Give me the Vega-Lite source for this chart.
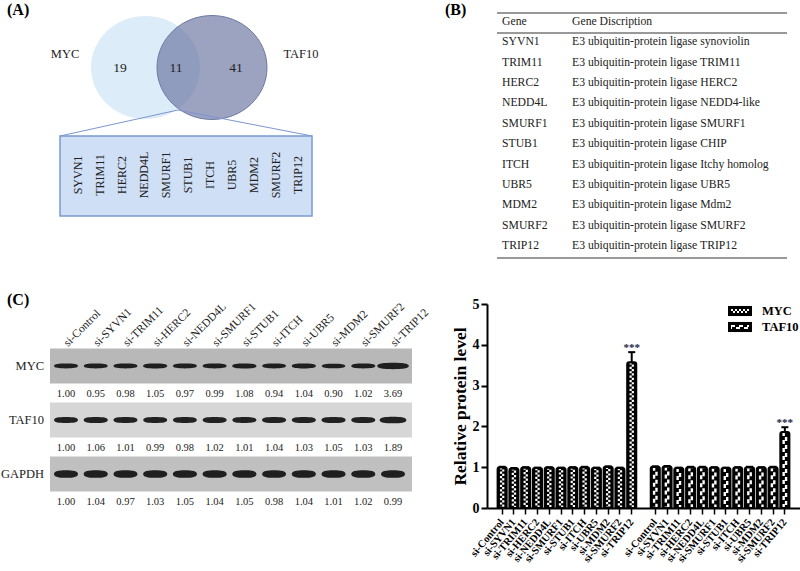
{
"$schema":"https://vega.github.io/schema/vega-lite/v6.json",
"padding":0,"background":"white",
"config":{"view":{"stroke":null},"axis":{"disable":true},"text":{"font":"Liberation Serif","color":"#222222"},"style":{"guide-label":{"font":"Liberation Serif"}}},
"datasets":{
"venn":[{"region":"MYC only","count":19},{"region":"both","count":11},{"region":"TAF10 only","count":41}],
"genes":[{"gene":"Gene","description":"Gene Discription"},{"gene":"SYVN1","description":"E3 ubiquitin-protein ligase synoviolin"},{"gene":"TRIM11","description":"E3 ubiquitin-protein ligase TRIM11"},{"gene":"HERC2","description":"E3 ubiquitin-protein ligase HERC2"},{"gene":"NEDD4L","description":"E3 ubiquitin-protein ligase NEDD4-like"},{"gene":"SMURF1","description":"E3 ubiquitin-protein ligase SMURF1"},{"gene":"STUB1","description":"E3 ubiquitin-protein ligase CHIP"},{"gene":"ITCH","description":"E3 ubiquitin-protein ligase Itchy homolog"},{"gene":"UBR5","description":"E3 ubiquitin-protein ligase UBR5"},{"gene":"MDM2","description":"E3 ubiquitin-protein ligase Mdm2"},{"gene":"SMURF2","description":"E3 ubiquitin-protein ligase SMURF2"},{"gene":"TRIP12","description":"E3 ubiquitin-protein ligase TRIP12"}],
"blot":[
{"protein":"MYC","sample":"si-Control","value":1.00},{"protein":"MYC","sample":"si-SYVN1","value":0.95},{"protein":"MYC","sample":"si-TRIM11","value":0.98},{"protein":"MYC","sample":"si-HERC2","value":1.05},{"protein":"MYC","sample":"si-NEDD4L","value":0.97},{"protein":"MYC","sample":"si-SMURF1","value":0.99},{"protein":"MYC","sample":"si-STUB1","value":1.08},{"protein":"MYC","sample":"si-ITCH","value":0.94},{"protein":"MYC","sample":"si-UBR5","value":1.04},{"protein":"MYC","sample":"si-MDM2","value":0.90},{"protein":"MYC","sample":"si-SMURF2","value":1.02},{"protein":"MYC","sample":"si-TRIP12","value":3.69},
{"protein":"TAF10","sample":"si-Control","value":1.00},{"protein":"TAF10","sample":"si-SYVN1","value":1.06},{"protein":"TAF10","sample":"si-TRIM11","value":1.01},{"protein":"TAF10","sample":"si-HERC2","value":0.99},{"protein":"TAF10","sample":"si-NEDD4L","value":0.98},{"protein":"TAF10","sample":"si-SMURF1","value":1.02},{"protein":"TAF10","sample":"si-STUB1","value":1.01},{"protein":"TAF10","sample":"si-ITCH","value":1.04},{"protein":"TAF10","sample":"si-UBR5","value":1.03},{"protein":"TAF10","sample":"si-MDM2","value":1.05},{"protein":"TAF10","sample":"si-SMURF2","value":1.03},{"protein":"TAF10","sample":"si-TRIP12","value":1.89},
{"protein":"GAPDH","sample":"si-Control","value":1.00},{"protein":"GAPDH","sample":"si-SYVN1","value":1.04},{"protein":"GAPDH","sample":"si-TRIM11","value":0.97},{"protein":"GAPDH","sample":"si-HERC2","value":1.03},{"protein":"GAPDH","sample":"si-NEDD4L","value":1.05},{"protein":"GAPDH","sample":"si-SMURF1","value":1.04},{"protein":"GAPDH","sample":"si-STUB1","value":1.05},{"protein":"GAPDH","sample":"si-ITCH","value":0.98},{"protein":"GAPDH","sample":"si-UBR5","value":1.04},{"protein":"GAPDH","sample":"si-MDM2","value":1.01},{"protein":"GAPDH","sample":"si-SMURF2","value":1.02},{"protein":"GAPDH","sample":"si-TRIP12","value":0.99}],
"bars":[
{"bar":"MYC si-Control","group":"MYC","value":1.0,"upper":1.01},{"bar":"MYC si-SYVN1","group":"MYC","value":0.97,"upper":0.98},{"bar":"MYC si-TRIM11","group":"MYC","value":0.99,"upper":1.0},{"bar":"MYC si-HERC2","group":"MYC","value":0.98,"upper":0.99},{"bar":"MYC si-NEDD4L","group":"MYC","value":0.99,"upper":1.0},{"bar":"MYC si-SMURF1","group":"MYC","value":0.98,"upper":0.99},{"bar":"MYC si-STUB1","group":"MYC","value":0.99,"upper":1.0},{"bar":"MYC si-ITCH","group":"MYC","value":1.0,"upper":1.01},{"bar":"MYC si-UBR5","group":"MYC","value":0.98,"upper":0.99},{"bar":"MYC si-MDM2","group":"MYC","value":1.01,"upper":1.02},{"bar":"MYC si-SMURF2","group":"MYC","value":0.98,"upper":0.99},{"bar":"MYC si-TRIP12","group":"MYC","value":3.57,"upper":3.82,"sig":"***"},
{"bar":"TAF10 si-Control","group":"TAF10","value":1.01,"upper":1.02},{"bar":"TAF10 si-SYVN1","group":"TAF10","value":1.02,"upper":1.03},{"bar":"TAF10 si-TRIM11","group":"TAF10","value":0.98,"upper":0.99},{"bar":"TAF10 si-HERC2","group":"TAF10","value":1.0,"upper":1.01},{"bar":"TAF10 si-NEDD4L","group":"TAF10","value":1.0,"upper":1.01},{"bar":"TAF10 si-SMURF1","group":"TAF10","value":0.99,"upper":1.0},{"bar":"TAF10 si-STUB1","group":"TAF10","value":0.98,"upper":0.99},{"bar":"TAF10 si-ITCH","group":"TAF10","value":0.99,"upper":1.0},{"bar":"TAF10 si-UBR5","group":"TAF10","value":1.0,"upper":1.01},{"bar":"TAF10 si-MDM2","group":"TAF10","value":0.99,"upper":1.0},{"bar":"TAF10 si-SMURF2","group":"TAF10","value":1.0,"upper":1.01},{"bar":"TAF10 si-TRIP12","group":"TAF10","value":1.86,"upper":1.98,"sig":"***"}]
},
"bounds":"flush","spacing":0,"columns":2,
"concat":[
{"width":485,"height":290,
 "layer":[
 {"layer":[
  {"data":{"values":[{"set":"MYC"}]},"mark":{"type":"point","filled":true,"opacity":1,"fill":"#dcecf8","size":11881,"shape":"M-1,0A1,0.945 0 1 1 1,0A1,0.945 0 1 1 -1,0Z"},"encoding":{"x":{"datum":143.5,"scale":{"domain":[0,485],"nice":false,"zero":false}},"y":{"datum":67.5,"scale":{"domain":[290,0],"nice":false,"zero":false}}}},
  {"data":{"values":[{"set":"TAF10"}]},"mark":{"type":"point","filled":true,"opacity":1,"fill":"#5f6b99","fillOpacity":0.62,"stroke":"#6f7aa5","strokeWidth":1,"size":12100,"shape":"M-1,0A1,0.945 0 1 1 1,0A1,0.945 0 1 1 -1,0Z"},"encoding":{"x":{"datum":210},"y":{"datum":67.5}}},
  {"data":{"values":[{"part":"left connector"}]},"mark":{"type":"rule","color":"#7d95d0","strokeWidth":1},"encoding":{"x":{"datum":176},"x2":{"datum":58},"y":{"datum":110},"y2":{"datum":136}}},
  {"data":{"values":[{"part":"right connector"}]},"mark":{"type":"rule","color":"#7d95d0","strokeWidth":1},"encoding":{"x":{"datum":176},"x2":{"datum":310},"y":{"datum":110},"y2":{"datum":136}}},
  {"data":{"values":[{"part":"gene box"}]},"mark":{"type":"rect","fill":"#cfdff5","stroke":"#7a9ad0","strokeWidth":1.5},"encoding":{"x":{"datum":58},"x2":{"datum":310},"y":{"datum":136},"y2":{"datum":216}}},
  {"data":{"name":"venn"},"transform":[{"filter":"datum.region==='MYC only'"}],"mark":{"type":"text","fontSize":13.5},"encoding":{"x":{"datum":118},"y":{"datum":68},"text":{"field":"count"}}},
  {"data":{"name":"venn"},"transform":[{"filter":"datum.region==='both'"}],"mark":{"type":"text","fontSize":13.5},"encoding":{"x":{"datum":174},"y":{"datum":68},"text":{"field":"count"}}},
  {"data":{"name":"venn"},"transform":[{"filter":"datum.region==='TAF10 only'"}],"mark":{"type":"text","fontSize":13.5},"encoding":{"x":{"datum":234},"y":{"datum":68},"text":{"field":"count"}}},
  {"data":{"values":[{"name":"MYC"}]},"mark":{"type":"text","fontSize":12.5},"encoding":{"x":{"datum":63},"y":{"datum":54},"text":{"field":"name"}}},
  {"data":{"values":[{"name":"TAF10"}]},"mark":{"type":"text","fontSize":12.5},"encoding":{"x":{"datum":299},"y":{"datum":54},"text":{"field":"name"}}},
  {"data":{"values":[{"name":"(A)"}]},"mark":{"type":"text","fontSize":16,"fontWeight":"bold","align":"left","color":"black"},"encoding":{"x":{"datum":5},"y":{"datum":10},"text":{"field":"name"}}}
 ]},
 {"data":{"name":"genes"},"transform":[{"filter":"datum.gene!=='Gene'"}],"mark":{"type":"text","angle":270,"fontSize":12,"align":"center","baseline":"middle"},
  "encoding":{"x":{"field":"gene","type":"nominal","sort":null,"scale":{"type":"point","padding":0,"range":[76,296]}},"y":{"datum":175},"text":{"field":"gene"}}}
 ],
 "resolve":{"scale":{"x":"independent"}}
},
{"width":315,"height":290,
 "layer":[
 {"data":{"name":"genes"},"layer":[
  {"mark":{"type":"text","align":"left","fontSize":11.7},"encoding":{"x":{"datum":60,"scale":{"domain":[0,360],"range":[-45,315],"nice":false,"zero":false}},"text":{"field":"gene"}}},
  {"mark":{"type":"text","align":"left","fontSize":11.7},"encoding":{"x":{"datum":130},"text":{"field":"description"}}}
 ],"encoding":{"y":{"field":"gene","type":"nominal","sort":null,"scale":{"type":"point","padding":0,"range":[21,245]}}}},
 {"layer":[
  {"data":{"values":[{"rule":"top"}]},"mark":{"type":"rule","color":"#333333"},"encoding":{"x":{"datum":55},"x2":{"datum":345},"y":{"datum":13,"scale":{"domain":[290,0],"nice":false,"zero":false}}}},
  {"data":{"values":[{"rule":"header"}]},"mark":{"type":"rule","color":"#333333"},"encoding":{"x":{"datum":55},"x2":{"datum":345},"y":{"datum":33}}},
  {"data":{"values":[{"rule":"bottom"}]},"mark":{"type":"rule","color":"#333333"},"encoding":{"x":{"datum":55},"x2":{"datum":345},"y":{"datum":258}}},
  {"data":{"values":[{"name":"(B)"}]},"mark":{"type":"text","fontSize":16,"fontWeight":"bold","align":"left","color":"black"},"encoding":{"x":{"datum":3},"y":{"datum":10},"text":{"field":"name"}}}
 ]}
 ],
 "resolve":{"scale":{"y":"independent"}}
},
{"width":485,"height":281,
 "layer":[
 {"data":{"values":[{"protein":"MYC"},{"protein":"TAF10"},{"protein":"GAPDH"}]},
  "encoding":{"y":{"field":"protein","type":"nominal","sort":null,"scale":{"type":"point","padding":0,"range":[76,184]}}},
  "layer":[
  {"mark":{"type":"tick","orient":"horizontal","size":362,"thickness":35},"encoding":{"x":{"datum":229,"scale":{"domain":[0,485],"nice":false,"zero":false}},"color":{"field":"protein","type":"nominal","legend":null,"scale":{"domain":["MYC","TAF10","GAPDH"],"range":["#b8b8b8","#d6d6d6","#c0c0c0"]}},"opacity":{"value":1}}},
  {"mark":{"type":"text","align":"right","fontSize":12.5},"encoding":{"x":{"datum":42},"text":{"field":"protein"}}}
 ]},
 {"data":{"name":"blot"},
  "encoding":{"x":{"field":"sample","type":"nominal","sort":null,"scale":{"type":"point","padding":0,"range":[64,391]}},"y":{"field":"protein","type":"nominal","sort":null,"scale":{"type":"point","padding":0,"range":[76,184]}}},
  "layer":[
  {"transform":[{"filter":"datum.protein==='MYC'"}],"mark":{"type":"point","filled":true,"opacity":0.92,"color":"#111111","shape":"M-1,0 C-1,-0.15 -0.6,-0.2 0,-0.2 C0.6,-0.2 1,-0.15 1,0 C1,0.15 0.6,0.2 0,0.2 C-0.6,0.2 -1,0.15 -1,0Z"},"encoding":{"size":{"field":"value","type":"quantitative","legend":null,"scale":{"domain":[0.9,3.69],"range":[560,1000]}}}},
  {"transform":[{"filter":"datum.protein==='TAF10'"}],"mark":{"type":"point","filled":true,"opacity":0.92,"color":"#111111","shape":"M-1,0 C-1,-0.2 -0.6,-0.25 0,-0.25 C0.6,-0.25 1,-0.2 1,0 C1,0.2 0.6,0.25 0,0.25 C-0.6,0.25 -1,0.2 -1,0Z"},"encoding":{"size":{"field":"value","type":"quantitative","legend":null,"scale":{"domain":[0.9,3.69],"range":[560,1000]}}}},
  {"transform":[{"filter":"datum.protein==='GAPDH'"}],"mark":{"type":"point","filled":true,"opacity":0.92,"color":"#111111","shape":"M-1,0 C-1,-0.26 -0.6,-0.32 0,-0.32 C0.6,-0.32 1,-0.26 1,0 C1,0.26 0.6,0.32 0,0.32 C-0.6,0.32 -1,0.26 -1,0Z"},"encoding":{"size":{"field":"value","type":"quantitative","legend":null,"scale":{"domain":[0.9,3.69],"range":[560,1000]}}}},
  {"mark":{"type":"text","fontSize":10.5,"dy":28},"encoding":{"text":{"field":"value","type":"quantitative","format":".2f"}}},
  {"transform":[{"filter":"datum.protein==='MYC'"}],"mark":{"type":"text","fontSize":11.5,"angle":315,"align":"left","baseline":"middle","dx":14.85,"dy":-14.85},"encoding":{"text":{"field":"sample"}}}
 ]},
 {"data":{"values":[{"name":"(C)"}]},"mark":{"type":"text","fontSize":16,"fontWeight":"bold","align":"left","color":"black"},"encoding":{"x":{"datum":5,"scale":{"domain":[0,485],"nice":false,"zero":false}},"y":{"datum":10,"scale":{"domain":[281,0],"nice":false,"zero":false}},"text":{"field":"name"}}}
 ],
 "resolve":{"scale":{"x":"independent","y":"independent"}}
},
{"width":313,"height":218,
 "layer":[
 {"data":{"name":"bars"},
  "encoding":{
   "x":{"field":"bar","type":"nominal","title":null,
    "scale":{"type":"band","paddingInner":0.23,"paddingOuter":0.9,"domain":["MYC si-Control","MYC si-SYVN1","MYC si-TRIM11","MYC si-HERC2","MYC si-NEDD4L","MYC si-SMURF1","MYC si-STUB1","MYC si-ITCH","MYC si-UBR5","MYC si-MDM2","MYC si-SMURF2","MYC si-TRIP12","gap","TAF10 si-Control","TAF10 si-SYVN1","TAF10 si-TRIM11","TAF10 si-HERC2","TAF10 si-NEDD4L","TAF10 si-SMURF1","TAF10 si-STUB1","TAF10 si-ITCH","TAF10 si-UBR5","TAF10 si-MDM2","TAF10 si-SMURF2","TAF10 si-TRIP12"]},
    "axis":{"values":["MYC si-Control","MYC si-SYVN1","MYC si-TRIM11","MYC si-HERC2","MYC si-NEDD4L","MYC si-SMURF1","MYC si-STUB1","MYC si-ITCH","MYC si-UBR5","MYC si-MDM2","MYC si-SMURF2","MYC si-TRIP12","TAF10 si-Control","TAF10 si-SYVN1","TAF10 si-TRIM11","TAF10 si-HERC2","TAF10 si-NEDD4L","TAF10 si-SMURF1","TAF10 si-STUB1","TAF10 si-ITCH","TAF10 si-UBR5","TAF10 si-MDM2","TAF10 si-SMURF2","TAF10 si-TRIP12"],"labelExpr":"split(datum.value,' ')[1]","labelAngle":-50,"labelAlign":"right","labelBaseline":"middle","labelFont":"Liberation Serif","labelFontWeight":"bold","labelFontSize":10.5,"labelColor":"black","labelOverlap":false,"labelPadding":6,"tickSize":6,"tickWidth":1.5,"tickColor":"black","domainWidth":2,"domainColor":"black","zindex":1,"grid":false}},
   "y":{"field":"value","type":"quantitative","title":"Relative protein level",
    "scale":{"domain":[0,5],"range":[218,14],"nice":false},
    "axis":{"values":[0,1,2,3,4,5],"labelFont":"Liberation Serif","labelFontWeight":"bold","labelFontSize":14,"labelColor":"black","tickSize":6,"tickWidth":2,"tickColor":"black","domainWidth":2,"domainColor":"black","grid":false,"titleFont":"Liberation Serif","titleFontWeight":"bold","titleFontSize":17.5,"titleColor":"black","titlePadding":3,"zindex":1}}
  },
  "layer":[
  {"mark":{"type":"bar","fill":"black","cornerRadiusTopLeft":2,"cornerRadiusTopRight":2}},
  {"transform":[{"filter":"datum.group==='MYC'"}],"mark":{"type":"rule","color":"white","strokeWidth":2.2,"strokeDash":[2.2,2.2],"xOffset":-1.1},"encoding":{"y2":{"datum":0}}},
  {"transform":[{"filter":"datum.group==='MYC'"}],"mark":{"type":"rule","color":"white","strokeWidth":2.2,"strokeDash":[2.2,2.2],"strokeDashOffset":2.2,"xOffset":1.1},"encoding":{"y2":{"datum":0}}},
  {"transform":[{"filter":"datum.group==='TAF10'"}],"mark":{"type":"rule","color":"white","strokeWidth":2.4,"strokeDash":[4,4],"xOffset":-1.2},"encoding":{"y2":{"datum":0}}},
  {"transform":[{"filter":"datum.group==='TAF10'"}],"mark":{"type":"rule","color":"white","strokeWidth":2.4,"strokeDash":[4,4],"strokeDashOffset":3,"xOffset":1.2},"encoding":{"y2":{"datum":0}}},
  {"mark":{"type":"bar","fillOpacity":0,"stroke":"black","strokeWidth":2,"cornerRadiusTopLeft":2,"cornerRadiusTopRight":2}},
  {"mark":{"type":"rule","color":"black","strokeWidth":2},"encoding":{"y2":{"field":"upper"}}},
  {"mark":{"type":"tick","color":"black","opacity":1,"size":7,"thickness":2},"encoding":{"y":{"field":"upper","type":"quantitative"}}},
  {"transform":[{"filter":"isValid(datum.sig)"}],"mark":{"type":"text","fontWeight":"bold","fontSize":11,"dy":-4,"color":"#1a2340"},"encoding":{"y":{"field":"upper","type":"quantitative"},"text":{"field":"sig"}}}
 ]},
 {"data":{"values":[{"group":"MYC"},{"group":"TAF10"}]},
  "encoding":{"y":{"field":"group","type":"nominal","sort":null,"scale":{"type":"point","padding":0,"range":[21,37]}}},
  "layer":[
  {"mark":{"type":"point","filled":true,"opacity":1,"color":"black","shape":"M-1,-0.42H1V0.42H-1Z","size":576},"encoding":{"x":{"datum":253,"scale":{"domain":[0,313],"nice":false,"zero":false}}}},
  {"transform":[{"filter":"datum.group==='MYC'"}],"mark":{"type":"rule","color":"white","strokeWidth":1.8,"strokeDash":[2,2],"yOffset":-1},"encoding":{"x":{"datum":244},"x2":{"datum":262}}},
  {"transform":[{"filter":"datum.group==='MYC'"}],"mark":{"type":"rule","color":"white","strokeWidth":1.8,"strokeDash":[2,2],"strokeDashOffset":2,"yOffset":1},"encoding":{"x":{"datum":244},"x2":{"datum":262}}},
  {"transform":[{"filter":"datum.group==='TAF10'"}],"mark":{"type":"rule","color":"white","strokeWidth":2,"strokeDash":[4,4],"yOffset":-1},"encoding":{"x":{"datum":244},"x2":{"datum":262}}},
  {"transform":[{"filter":"datum.group==='TAF10'"}],"mark":{"type":"rule","color":"white","strokeWidth":2,"strokeDash":[4,4],"strokeDashOffset":3,"yOffset":1},"encoding":{"x":{"datum":244},"x2":{"datum":262}}},
  {"mark":{"type":"text","align":"left","fontWeight":"bold","fontSize":12.5,"color":"black"},"encoding":{"x":{"datum":275},"text":{"field":"group"}}}
 ]}
 ],
 "resolve":{"scale":{"x":"independent","y":"independent"}}
}
]
}
